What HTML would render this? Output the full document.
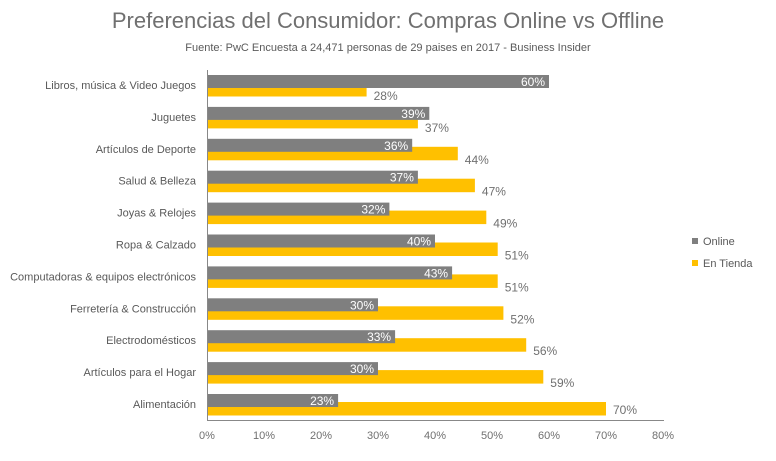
<!DOCTYPE html><html><head><meta charset="utf-8"><style>
body{margin:0;width:776px;height:456px;background:#fff;font-family:"Liberation Sans",sans-serif;overflow:hidden}
</style></head><body>
<svg width="776" height="456" xmlns="http://www.w3.org/2000/svg" font-family="Liberation Sans, sans-serif">
<text x="388" y="28" text-anchor="middle" font-size="22" fill="#707070">Preferencias del Consumidor: Compras Online vs Offline</text>
<text x="388" y="51" text-anchor="middle" font-size="11" fill="#5a5a5a">Fuente: PwC Encuesta a 24,471 personas de 29 paises en 2017 - Business Insider</text>
<g id="bars"></g>
<line x1="207.5" y1="70" x2="207.5" y2="420" stroke="#888" stroke-width="1"/>
<line x1="207" y1="420.5" x2="664" y2="420.5" stroke="#888" stroke-width="1"/>
<g font-size="11" fill="#707070" text-anchor="middle" id="ticks"></g>
<rect x="692" y="238" width="6" height="6" fill="#7f7f7f"/>
<text x="703" y="245" font-size="11" fill="#595959">Online</text>
<rect x="692" y="260" width="6" height="6" fill="#ffc000"/>
<text x="703" y="267" font-size="11" fill="#595959">En Tienda</text>
</svg>
<script>
var d=[["Libros, música &amp; Video Juegos",60,28],["Juguetes",39,37],["Artículos de Deporte",36,44],["Salud &amp; Belleza",37,47],["Joyas &amp; Relojes",32,49],["Ropa &amp; Calzado",40,51],["Computadoras &amp; equipos electrónicos",43,51],["Ferretería &amp; Construcción",30,52],["Electrodomésticos",33,56],["Artículos para el Hogar",30,59],["Alimentación",23,70]];
var s="",k=5.7,x0=207;
d.forEach(function(r,i){var y=75+i*31.9;
s+='<rect x="'+x0+'" y="'+(y+8)+'" width="'+r[2]*k+'" height="13.5" fill="#ffc000"/>';
s+='<rect x="'+x0+'" y="'+y+'" width="'+r[1]*k+'" height="13" fill="#7f7f7f"/>';
s+='<text x="'+(x0+r[1]*k-4)+'" y="'+(y+11)+'" font-size="12" fill="#fff" text-anchor="end">'+r[1]+'%</text>';
s+='<text x="'+(x0+r[2]*k+7)+'" y="'+(y+(i==10?20:25))+'" font-size="12" fill="#707070">'+r[2]+'%</text>';
s+='<text x="196" y="'+(y+14)+'" font-size="11" fill="#595959" text-anchor="end">'+r[0]+'</text>';});
document.getElementById("bars").innerHTML=s;
var t="";for(var i=0;i<=8;i++)t+='<text x="'+(x0+i*10*k)+'" y="439">'+i*10+'%</text>';
document.getElementById("ticks").innerHTML=t;
</script>
</body></html>
